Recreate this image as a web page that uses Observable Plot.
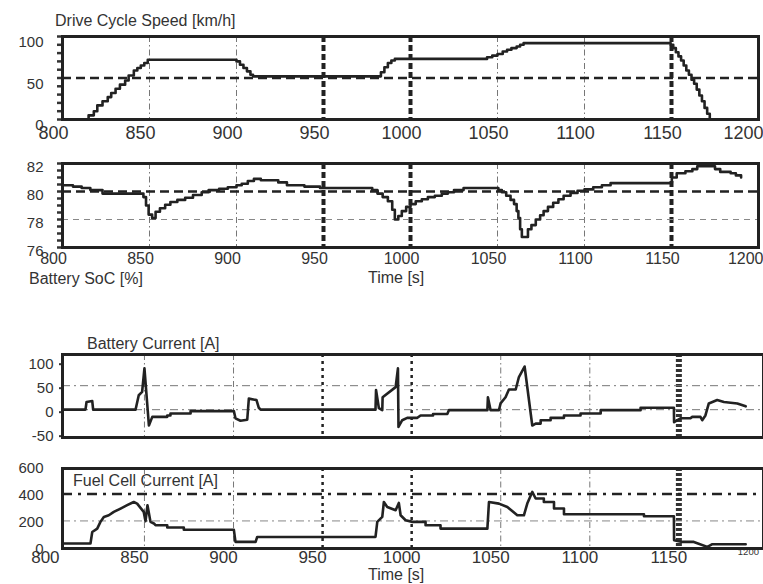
<!DOCTYPE html>
<html><head><meta charset="utf-8">
<script src="https://cdn.jsdelivr.net/npm/d3@7"></script>
<script src="https://cdn.jsdelivr.net/npm/@observablehq/plot@0.6"></script>
<style>
body{margin:0;background:#fff;}
#wrap{position:relative;width:763px;height:584px;overflow:hidden;background:#fff;font-family:"Liberation Sans",Arial,Helvetica,sans-serif;color:#333;}
.lbl{position:absolute;font-size:16px;line-height:1;white-space:nowrap;color:#333;}
</style></head><body>
<div id="wrap">
  <div class="lbl" style="left:55px;top:13px;">Drive Cycle Speed [km/h]</div>
  <div class="lbl" style="left:29px;top:271px;">Battery SoC [%]</div>
  <div class="lbl" style="left:368px;top:270px;">Time [s]</div>
  <div class="lbl" style="left:87px;top:336px;">Battery Current [A]</div>
  <div class="lbl" style="left:73px;top:473px;">Fuel Cell Current [A]</div>
  <div class="lbl" style="left:368px;top:567px;">Time [s]</div>
</div>
<script>
// ---- axes / ticks ----
const xTicksLower = [800, 850, 900, 950, 1000, 1050, 1100, 1150];
const xTickLast = [1200];
const gridThinX = [850, 900, 1050, 1100];
const gridBoldX = [950, 1000, 1150];
const gridDotX = [950, 1000];
const gridHeavyX = [1150];

const speedTicks = [0, 50, 100];
const speedMinor = [0, 10, 20, 30, 40, 50, 60, 70, 80, 90, 100];
const speedGrid = [50];
const socTicks = [76, 78, 80, 82];
const socMinor = [76, 76.5, 77, 77.5, 78, 78.5, 79, 79.5, 80, 80.5, 81, 81.5, 82];
const socGridBold = [80];
const socGridLight = [78];
const batTicks = [-50, 0, 50, 100];
const batGrid = [0, 50];
const fcTicks = [0, 200, 400, 600];
const fcGridBold = [400];
const fcGridLight = [200];

// ---- series ----
const speedTime = [800, 815, 818, 820, 823, 826, 828, 830.5, 833, 836, 838, 841, 843, 845, 847, 849, 900, 902, 904, 906, 908, 909.5, 983, 985, 987, 989, 991, 1044, 1047, 1050, 1053, 1055.5, 1058, 1061, 1063, 1065, 1149.5, 1151, 1152.5, 1154, 1155.5, 1157, 1158.5, 1160, 1161.5, 1163, 1164.5, 1166, 1167.5, 1169, 1170.5, 1172, 1190];
const speedKmh = [0, 5, 10, 17, 22, 27, 32, 37, 42, 47, 53, 59, 62, 65, 68, 72, 70, 66, 62, 58, 54, 52, 57, 63, 68, 71, 73, 75, 77, 79, 82, 84, 86, 88, 90, 92, 90, 86, 81, 76, 71, 65, 59, 54, 48, 43, 36, 29, 22, 14, 7, 0, 0];

const socTime = [800, 806, 811, 816, 823, 846.5, 848, 849.5, 851.5, 853.5, 856, 859, 862, 866, 870.5, 875, 880, 884, 890, 895, 900, 903, 906.5, 910, 914, 924, 929, 939, 948, 978, 981, 984, 987, 989.5, 991, 993, 995, 997.5, 1000, 1003, 1006.5, 1010, 1014, 1018, 1021.5, 1025, 1030.5, 1050.5, 1052.5, 1055, 1057.5, 1059.5, 1061, 1062, 1063, 1064, 1067.5, 1069.5, 1072, 1074.5, 1076.5, 1079, 1082, 1085, 1088, 1092, 1096, 1100, 1105, 1110, 1115, 1150.2, 1153, 1158, 1162, 1164.8, 1175, 1178, 1184, 1187, 1190];
const socPct = [80.45, 80.35, 80.25, 80.1, 79.85, 79.6, 79.0, 78.35, 78.1, 78.55, 78.8, 79.05, 79.25, 79.4, 79.55, 79.75, 79.95, 80.1, 80.2, 80.3, 80.45, 80.55, 80.75, 80.9, 80.8, 80.65, 80.45, 80.35, 80.25, 80.1, 79.85, 79.6, 79.3, 78.7, 78.0, 78.25, 78.6, 78.9, 79.1, 79.3, 79.45, 79.6, 79.7, 79.85, 79.95, 80.1, 80.25, 80.1, 79.95, 79.7, 79.4, 79.1, 78.6, 78.1, 77.3, 76.75, 77.3, 77.6, 78.0, 78.3, 78.6, 78.9, 79.2, 79.45, 79.7, 79.9, 80.05, 80.15, 80.3, 80.45, 80.6, 81.0, 81.3, 81.45, 81.6, 81.8, 81.6, 81.4, 81.3, 81.15, 81.0];

const batTime = [800, 816.9, 817.5, 820.7, 821.2, 845.0, 846.8, 848.7, 850.0, 852.5, 854.4, 862.8, 862.8, 864.6, 864.6, 875.9, 875.9, 900.2, 901.1, 903.9, 907.7, 908.6, 912.9, 914.2, 915.2, 979.7, 980.0, 981.6, 983.5, 983.7, 991.0, 992.3, 992.6, 994.7, 997.5, 1003.2, 1005.0, 1012.0, 1012.0, 1020.0, 1020.9, 1042.5, 1042.8, 1044.3, 1049.0, 1049.9, 1052.7, 1054.6, 1058.4, 1060.2, 1063.4, 1067.7, 1069.6, 1072.4, 1072.4, 1078.0, 1078.0, 1085.5, 1085.5, 1094.8, 1094.8, 1106.1, 1106.1, 1128.5, 1128.5, 1147.2, 1147.3, 1150.9, 1156.5, 1157.5, 1162.1, 1163.1, 1164.9, 1166.8, 1171.5, 1175.3, 1182.8, 1187.5];
const batAmp = [0, 0, 16, 18, 0, 0, 30, 37, 86, -33, -15, -15, -12, -12, -8, -8, -3, -3, -18, -23, -21, 23, 20, 4, 0, 0, 41, 3, -1, 26, 47, 86, -36, -22, -17, -17, -12, -12, -9, -9, -1, -1, 26, -1, -1, 13, 26, 42, 42, 68, 90, -33, -29, -29, -22, -22, -17, -17, -12, -12, -8, -8, -1, -1, 4, 4, -26, -18, -18, -15, -15, -22, -12, 13, 20, 16, 13, 7];

const fcTime = [800, 819.7, 820.7, 823.5, 825.3, 827.2, 830.0, 832.8, 836.6, 840.3, 844.0, 845.9, 849.6, 850.6, 851.7, 853.4, 855.3, 856.2, 862.8, 862.8, 872.1, 872.1, 900.2, 901.1, 912.4, 913.3, 979.7, 980.7, 983.5, 984.4, 986.3, 991.0, 992.8, 993.8, 996.6, 1000.4, 1007.8, 1007.8, 1016.2, 1016.2, 1042.5, 1043.4, 1049.0, 1053.7, 1059.3, 1063.0, 1064.9, 1067.7, 1069.6, 1074.2, 1074.2, 1079.9, 1079.9, 1085.5, 1085.5, 1130.4, 1130.4, 1147.2, 1147.3, 1151.9, 1158.4, 1166.0, 1168.8, 1187.5];
const fcAmp = [32, 32, 118, 143, 193, 230, 242, 267, 292, 317, 341, 329, 267, 198, 317, 193, 181, 168, 168, 151, 151, 134, 134, 44, 44, 81, 81, 193, 230, 341, 304, 280, 334, 242, 205, 193, 193, 168, 168, 143, 143, 341, 329, 304, 242, 242, 329, 416, 367, 367, 341, 341, 292, 292, 250, 250, 235, 235, 56, 44, 44, 7, 27, 27];

const toRows = (t, v) => t.map((d, i) => ({t: d, v: v[i]}));
const speed = toRows(speedTime, speedKmh);
const soc = toRows(socTime, socPct);
const bat = toRows(batTime, batAmp);
const fc = toRows(fcTime, fcAmp);

const FONT = '"Liberation Sans", Arial, Helvetica, sans-serif';
const INK = "#222";
const fmt = d => String(d);
const wrap = document.getElementById("wrap");

function place(svg, top) {
  svg.style.position = "absolute";
  svg.style.left = "0px";
  svg.style.top = top + "px";
  wrap.appendChild(svg);
}

const thinGrid = {stroke: "#777", strokeWidth: 1, strokeDasharray: "6,3,1.5,3"};
const boldGrid = {stroke: INK, strokeWidth: 4, strokeDasharray: "6,3"};
const lineStyle = {x: "t", y: "v", stroke: INK, strokeWidth: 2.6, clip: true};

// Panel 1: speed  (frame 36..119)
place(Plot.plot({
  width: 763, height: 146, marginLeft: 62, marginRight: 5, marginTop: 36, marginBottom: 27,
  x: {domain: [800, 1200]}, y: {domain: [0, 100]},
  style: {fontFamily: FONT, color: "#333", background: "transparent", overflow: "visible"},
  marks: [
    Plot.ruleX(gridThinX, thinGrid),
    Plot.ruleX(gridBoldX, boldGrid),
    Plot.ruleY(speedGrid, {stroke: INK, strokeWidth: 2.5, strokeDasharray: "9,5"}),
    Plot.line(speed, {...lineStyle, curve: "step-after"}),
    Plot.axisY({ticks: speedMinor, tickSize: 5, strokeWidth: 2.5, tickFormat: () => "", label: null}),
    Plot.axisY({ticks: speedTicks, tickSize: 0, tickPadding: 19, dy: 6, fontSize: 15, tickFormat: fmt, label: null}),
    Plot.axisX({ticks: xTicksLower, tickSize: 0, tickPadding: 7, dx: -9, fontSize: 18, tickFormat: fmt, label: null}),
    Plot.axisX({ticks: xTickLast, tickSize: 0, tickPadding: 7, dx: 5, textAnchor: "end", fontSize: 18, tickFormat: fmt, label: null}),
    Plot.frame({stroke: INK, strokeWidth: 3})
  ]
}), 0);

// Panel 2: SoC  (frame 163..247)
place(Plot.plot({
  width: 763, height: 130, marginLeft: 62, marginRight: 5, marginTop: 13, marginBottom: 33,
  x: {domain: [800, 1200]}, y: {domain: [76, 82]},
  style: {fontFamily: FONT, color: "#333", background: "transparent", overflow: "visible"},
  marks: [
    Plot.ruleX(gridThinX, thinGrid),
    Plot.ruleX(gridBoldX, boldGrid),
    Plot.ruleY(socGridLight, {stroke: "#888", strokeWidth: 1, strokeDasharray: "6,5"}),
    Plot.ruleY(socGridBold, {stroke: INK, strokeWidth: 2.5, strokeDasharray: "9,5"}),
    Plot.line(soc, {...lineStyle, curve: "step-after"}),
    Plot.axisY({ticks: socMinor, tickSize: 5, strokeWidth: 2.5, tickFormat: () => "", label: null}),
    Plot.axisY({ticks: socTicks, tickSize: 0, tickPadding: 19, dy: 4, fontSize: 15, tickFormat: fmt, label: null}),
    Plot.axisX({ticks: xTicksLower, tickSize: 0, tickPadding: 5, dx: -9, fontSize: 16, tickFormat: fmt, label: null}),
    Plot.axisX({ticks: xTickLast, tickSize: 0, tickPadding: 5, dx: 5, textAnchor: "end", fontSize: 16, tickFormat: fmt, label: null}),
    Plot.frame({stroke: INK, strokeWidth: 3})
  ]
}), 150);

// Panel 3: battery current  (frame 354..437)
place(Plot.plot({
  width: 763, height: 105, marginLeft: 62, marginRight: 0, marginTop: 14, marginBottom: 8,
  x: {domain: [804, 1197.5], axis: null}, y: {domain: [-58, 115]},
  style: {fontFamily: FONT, color: "#333", background: "transparent", overflow: "visible"},
  marks: [
    Plot.ruleX(gridThinX, thinGrid),
    Plot.ruleX(gridDotX, {stroke: INK, strokeWidth: 2.5, strokeDasharray: "3,4"}),
    Plot.ruleX(gridHeavyX, {stroke: "#333", strokeWidth: 6, strokeDasharray: "3,2"}),
    Plot.ruleY(batGrid, {stroke: "#777", strokeWidth: 1, strokeDasharray: "8,4,2,4"}),
    Plot.line(bat, lineStyle),
    Plot.axisY({ticks: batTicks, tickSize: 3, strokeWidth: 2, tickPadding: 6, dy: 2.5, fontSize: 15, tickFormat: fmt, label: null}),
    Plot.frame({stroke: INK, strokeWidth: 3})
  ]
}), 340);

// Panel 4: fuel cell current  (frame 468..548)
place(Plot.plot({
  width: 763, height: 124, marginLeft: 62, marginRight: 0, marginTop: 13, marginBottom: 31,
  x: {domain: [804, 1197.5]}, y: {domain: [-5, 590]},
  style: {fontFamily: FONT, color: "#333", background: "transparent", overflow: "visible"},
  marks: [
    Plot.ruleX(gridThinX, thinGrid),
    Plot.ruleX(gridDotX, {stroke: INK, strokeWidth: 2.5, strokeDasharray: "3,4"}),
    Plot.ruleX(gridHeavyX, {stroke: "#333", strokeWidth: 6, strokeDasharray: "3,2"}),
    Plot.ruleY(fcGridLight, {stroke: "#888", strokeWidth: 1, strokeDasharray: "8,4,2,4"}),
    Plot.ruleY(fcGridBold, {stroke: INK, strokeWidth: 2.5, strokeDasharray: "10,6,3,6"}),
    Plot.line(fc, lineStyle),
    Plot.axisY({ticks: fcTicks, tickSize: 0, tickPadding: 19, dy: 1.5, fontSize: 15, tickFormat: fmt, label: null}),
    Plot.axisX({ticks: xTicksLower, tickSize: 0, tickPadding: 2, dx: -10, fontSize: 17, tickFormat: fmt, label: null}),
    Plot.text(xTickLast, {x: d => d, frameAnchor: "bottom", dy: 6, dx: -9, textAnchor: "end", fontSize: 9.5, text: fmt, fill: "#333"}),
    Plot.frame({stroke: INK, strokeWidth: 3})
  ]
}), 455);
</script>
</body></html>
